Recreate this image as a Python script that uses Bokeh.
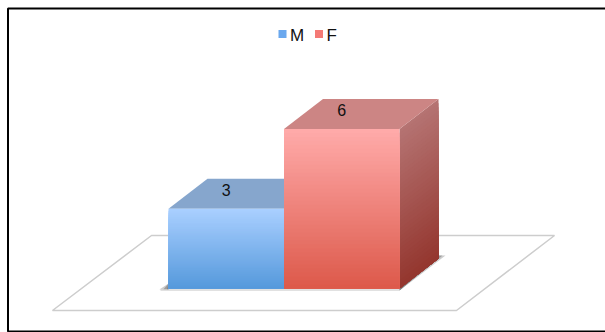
from bokeh.embed import file_html
from bokeh.models import Range1d
from bokeh.plotting import figure
from bokeh.resources import INLINE
from bokeh.core.properties import value

# Chart data
categories = ["M", "F"]
counts = [3, 6]

# Colour of each series: front top/bottom, roof, side top/bottom
front_top = ["#a9cfff", "#ffaaa9"]
front_bottom = ["#5498db", "#dc5849"]
roof = ["#86a6cd", "#cc8584"]
side_top = ["#7d97ba", "#b57372"]
side_bottom = ["#4a7199", "#93352d"]
legend_swatch = ["#6aa8ee", "#f47a76"]

W, H = 605, 332
SLOT_PX = 115.5       # width of one category on screen
UNIT_PX = 26.6        # height of one count on screen
ORIGIN_X, ORIGIN_Y = 168, 288
DEPTH_X, DEPTH_Y = 39 / SLOT_PX, 30 / UNIT_PX  # oblique projection of the depth axis

p = figure(width=W, height=H, output_backend="svg", toolbar_location=None,
           min_border=0, outline_line_color=None, background_fill_color="white",
           x_range=Range1d(-ORIGIN_X / SLOT_PX, (W - ORIGIN_X) / SLOT_PX),
           y_range=Range1d((ORIGIN_Y - H) / UNIT_PX, ORIGIN_Y / UNIT_PX))
p.xaxis.visible = False
p.yaxis.visible = False
p.grid.visible = False

# Screen-space ranges for the frame, floor and legend
p.extra_x_ranges["px"] = Range1d(0, W)
p.extra_y_ranges["px"] = Range1d(H, 0)
px = dict(x_range_name="px", y_range_name="px")


def mix(a, b, t):
    ca = [int(a[i:i + 2], 16) for i in (1, 3, 5)]
    cb = [int(b[i:i + 2], 16) for i in (1, 3, 5)]
    return "#%02x%02x%02x" % tuple(round(u + (v - u) * t) for u, v in zip(ca, cb))


# Frame
p.line([W, 7.5, 7.5, W], [8, 8, 331, 331], line_color="black", line_width=2, **px)

# Floor plane
p.patch([52, 151, 554, 456], [310, 235, 235, 310], fill_color="white",
        line_color="#cdcdcd", line_width=1.5, **px)

# Soft contact shadows at the foot of the bars
for grow, alpha in ((7, 0.3), (4, 0.4), (1, 0.5)):
    p.patch([399, 438 + grow, 438, 399], [290, 255, 255, 288],
            fill_color="#555555", fill_alpha=alpha, line_color=None, **px)
    p.patch([168 - grow * 1.3, 168, 168], [289, 283, 289],
            fill_color="#555555", fill_alpha=alpha, line_color=None, **px)
p.line([160, 399], [289.5, 289.5], line_color="#c4c4c4", line_width=1, **px)

# Bars: gradients are stacked from the top so each band overlaps the next
STEPS = 40
for i, count in enumerate(counts):
    x0, x1 = i, i + 1

    # side face, sheared along the depth axis
    for s in range(STEPS):
        t = s / STEPS
        h = count * (1 - t)
        p.patch([x1, x1 + DEPTH_X, x1 + DEPTH_X, x1],
                [h, h + DEPTH_Y, DEPTH_Y, 0],
                fill_color=mix(side_top[i], side_bottom[i], t), line_color=None)

    # roof
    p.patch([x0, x0 + DEPTH_X, x1 + DEPTH_X, x1],
            [count, count + DEPTH_Y, count + DEPTH_Y, count],
            fill_color=roof[i], line_color=None)

    # front face
    for s in range(STEPS):
        t = s / STEPS
        p.quad(left=x0, right=x1, bottom=0, top=count * (1 - t),
               fill_color=mix(front_top[i], front_bottom[i], t), line_color=None)

# Value labels sit on the roofs
p.text(x=[i + 0.5 for i in range(len(counts))], y=[c + 0.7 for c in counts],
       text=[str(c) for c in counts], text_font=value("Liberation Sans"),
       text_font_size="16px", text_color="#111111",
       text_align="center", text_baseline="middle")

# Legend
swatch_x = [278, 314.5]
label_x = [289.5, 326]
for i, name in enumerate(categories):
    p.rect([swatch_x[i] + 4], [33.5], width=8, height=8, fill_color=legend_swatch[i],
           line_color=None, **px)
    p.text([label_x[i]], [35], text=[name], text_font=value("Liberation Sans"),
           text_font_size="17px", text_color="#111111",
           text_align="left", text_baseline="middle", **px)

open("out.html", "w").write(file_html(p, INLINE))
